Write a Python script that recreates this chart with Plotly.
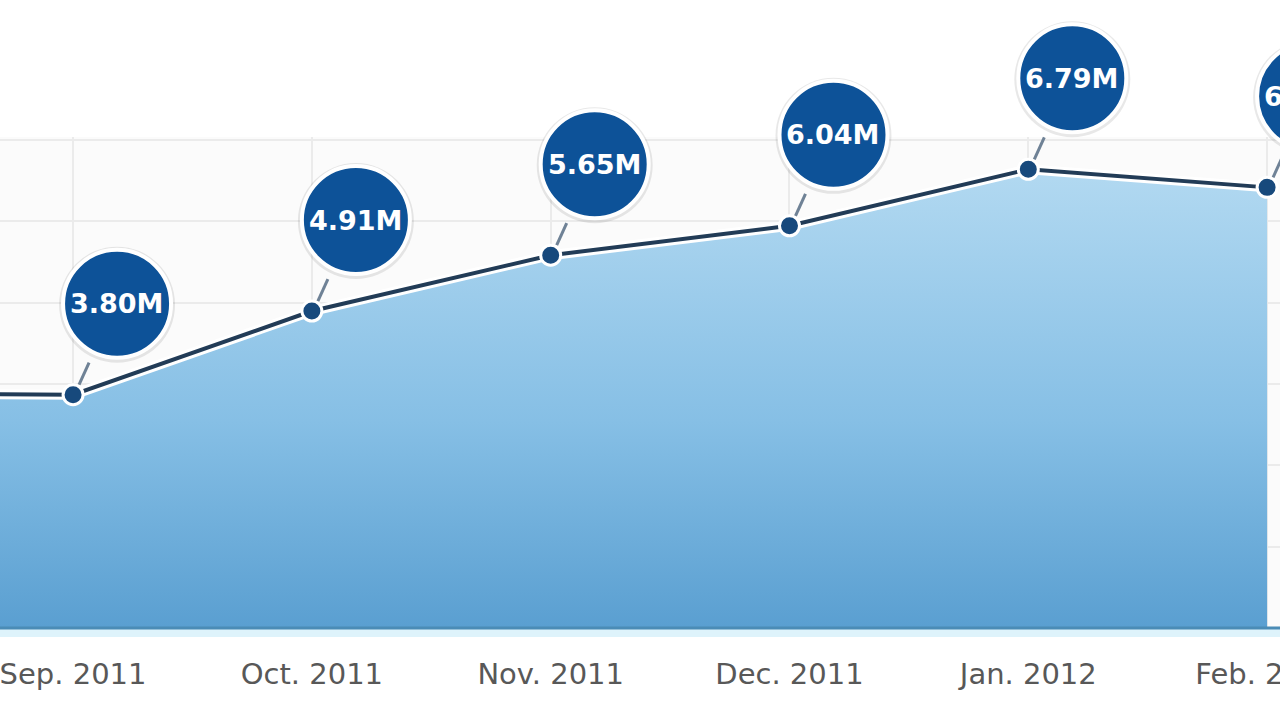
#Monthly totals area chart

import plotly.graph_objects as go

#Data---------------------------------------------------------------------------------------------------------------------------------
months = ["Aug. 2011", "Sep. 2011", "Oct. 2011", "Nov. 2011", "Dec. 2011", "Jan. 2012", "Feb. 2012"]
totals = [3.82, 3.80, 4.91, 5.65, 6.04, 6.79, 6.55]   # millions
show_label = [False, True, True, True, True, True, True]

#Axis setup---------------------------------------------------------------------------------------------------------------------------
# main (gridded) area covers the lower part of the figure, a second full-height
# axis pair with the same scale carries the value bubbles so they are not clipped
y_bottom = 0.706
y_grid_top = 7.178
y_step = (y_grid_top - y_bottom) / 6
y_grid_range_top = y_grid_top + 0.04
y_top = 9.035
x_range = [0.694, 6.054]

fig = go.Figure()

#Area with vertical gradient
fig.add_trace(go.Scatter(
    x=months, y=totals,
    mode="lines",
    line=dict(width=0),
    fill="tozeroy",
    fillgradient=dict(type="vertical",
                      start=y_bottom, stop=max(totals),
                      colorscale=[[0, "#5a9fd1"], [0.45, "#86bfe5"], [1, "#b2d9f1"]]),
    hoverinfo="skip",
    showlegend=False,
))

#white halo under the line
fig.add_trace(go.Scatter(
    x=months, y=totals,
    mode="lines",
    line=dict(color="white", width=10),
    hoverinfo="skip",
    showlegend=False,
    cliponaxis=False,
))

fig.add_trace(go.Scatter(
    x=months, y=totals,
    mode="lines+markers",
    line=dict(color="#223c57", width=4),
    marker=dict(size=20, color="#17497c", line=dict(color="white", width=3)),
    showlegend=False,
    cliponaxis=False,
))

#invisible trace so the full-height axes exist
fig.add_trace(go.Scatter(
    x=months, y=totals, xaxis="x2", yaxis="y2",
    mode="none", hoverinfo="skip", showlegend=False,
))

#Bubbles------------------------------------------------------------------------------------------------------------------------------
shapes = []
annotations = []
bx, by, r = 44, 91, 54
for m, v, lab in zip(months, totals, show_label):
    if not lab:
        continue
    # connector
    shapes.append(dict(type="line", xref="x2", yref="y2", xsizemode="pixel", ysizemode="pixel",
                       xanchor=m, yanchor=v, x0=6, y0=10, x1=16, y1=32,
                       line=dict(color="#6f8296", width=3)))
    # soft shadow
    shapes.append(dict(type="circle", xref="x2", yref="y2", xsizemode="pixel", ysizemode="pixel",
                       xanchor=m, yanchor=v, x0=bx - r - 4, x1=bx + r + 4, y0=by - r - 5, y1=by + r + 3,
                       fillcolor="rgba(0,0,0,0.09)", line=dict(width=0)))
    shapes.append(dict(type="circle", xref="x2", yref="y2", xsizemode="pixel", ysizemode="pixel",
                       xanchor=m, yanchor=v, x0=bx - r, x1=bx + r, y0=by - r, y1=by + r,
                       fillcolor="#0d5298", line=dict(color="white", width=4)))
    annotations.append(dict(x=m, y=v, xref="x2", yref="y2", xshift=bx, yshift=by,
                            text=f"{v:.2f}M", showarrow=False,
                            font=dict(family="DejaVu Sans", size=27, color="white", weight="bold")))

#faint background of the gridded area
shapes.append(dict(type="rect", xref="paper", yref="y domain", x0=0, x1=1, y0=0, y1=1,
                   fillcolor="#fbfbfb", line=dict(width=0), layer="below"))
#bottom edge of the area and light strip under it
shapes.append(dict(type="rect", xref="paper", yref="paper", ysizemode="pixel", yanchor=0,
                   x0=0, x1=1, y0=-9, y1=0, fillcolor="#def3fb", line=dict(width=0), layer="below"))
shapes.append(dict(type="line", xref="paper", yref="paper", x0=0, x1=1, y0=0, y1=0,
                   line=dict(color="#4b8cb6", width=3)))

grid_frac = (y_grid_range_top - y_bottom) / (y_top - y_bottom)

fig.update_layout(
    width=1280, height=722,
    margin=dict(l=0, r=0, t=0, b=94, autoexpand=False),
    paper_bgcolor="white",
    plot_bgcolor="rgba(0,0,0,0)",
    shapes=shapes,
    annotations=annotations,
    showlegend=False,
    hovermode=False,
    xaxis=dict(
        type="category", range=x_range, domain=[0, 1], anchor="y",
        automargin=False,
        showgrid=True, gridcolor="#ebebeb", gridwidth=2,
        zeroline=False, showline=False,
        ticks="outside", ticklen=20, tickcolor="rgba(0,0,0,0)",
        tickfont=dict(family="DejaVu Sans", size=29, color="#585858"),
    ),
    yaxis=dict(
        range=[y_bottom, y_grid_range_top], domain=[0, grid_frac], anchor="x",
        automargin=False,
        tick0=y_bottom, dtick=y_step,
        showgrid=True, gridcolor="#ebebeb", gridwidth=2,
        showticklabels=False, zeroline=False, showline=False,
    ),
    xaxis2=dict(
        type="category", range=x_range, domain=[0, 1], anchor="y2",
        categoryarray=months, categoryorder="array",
        visible=False, automargin=False,
    ),
    yaxis2=dict(
        range=[y_bottom, y_top], domain=[0, 1], anchor="x2",
        visible=False, automargin=False,
    ),
)

fig.write_html("out.html",
               config={"displayModeBar": False},
               post_script="document.body.style.margin='0';document.body.style.overflow='hidden';")
